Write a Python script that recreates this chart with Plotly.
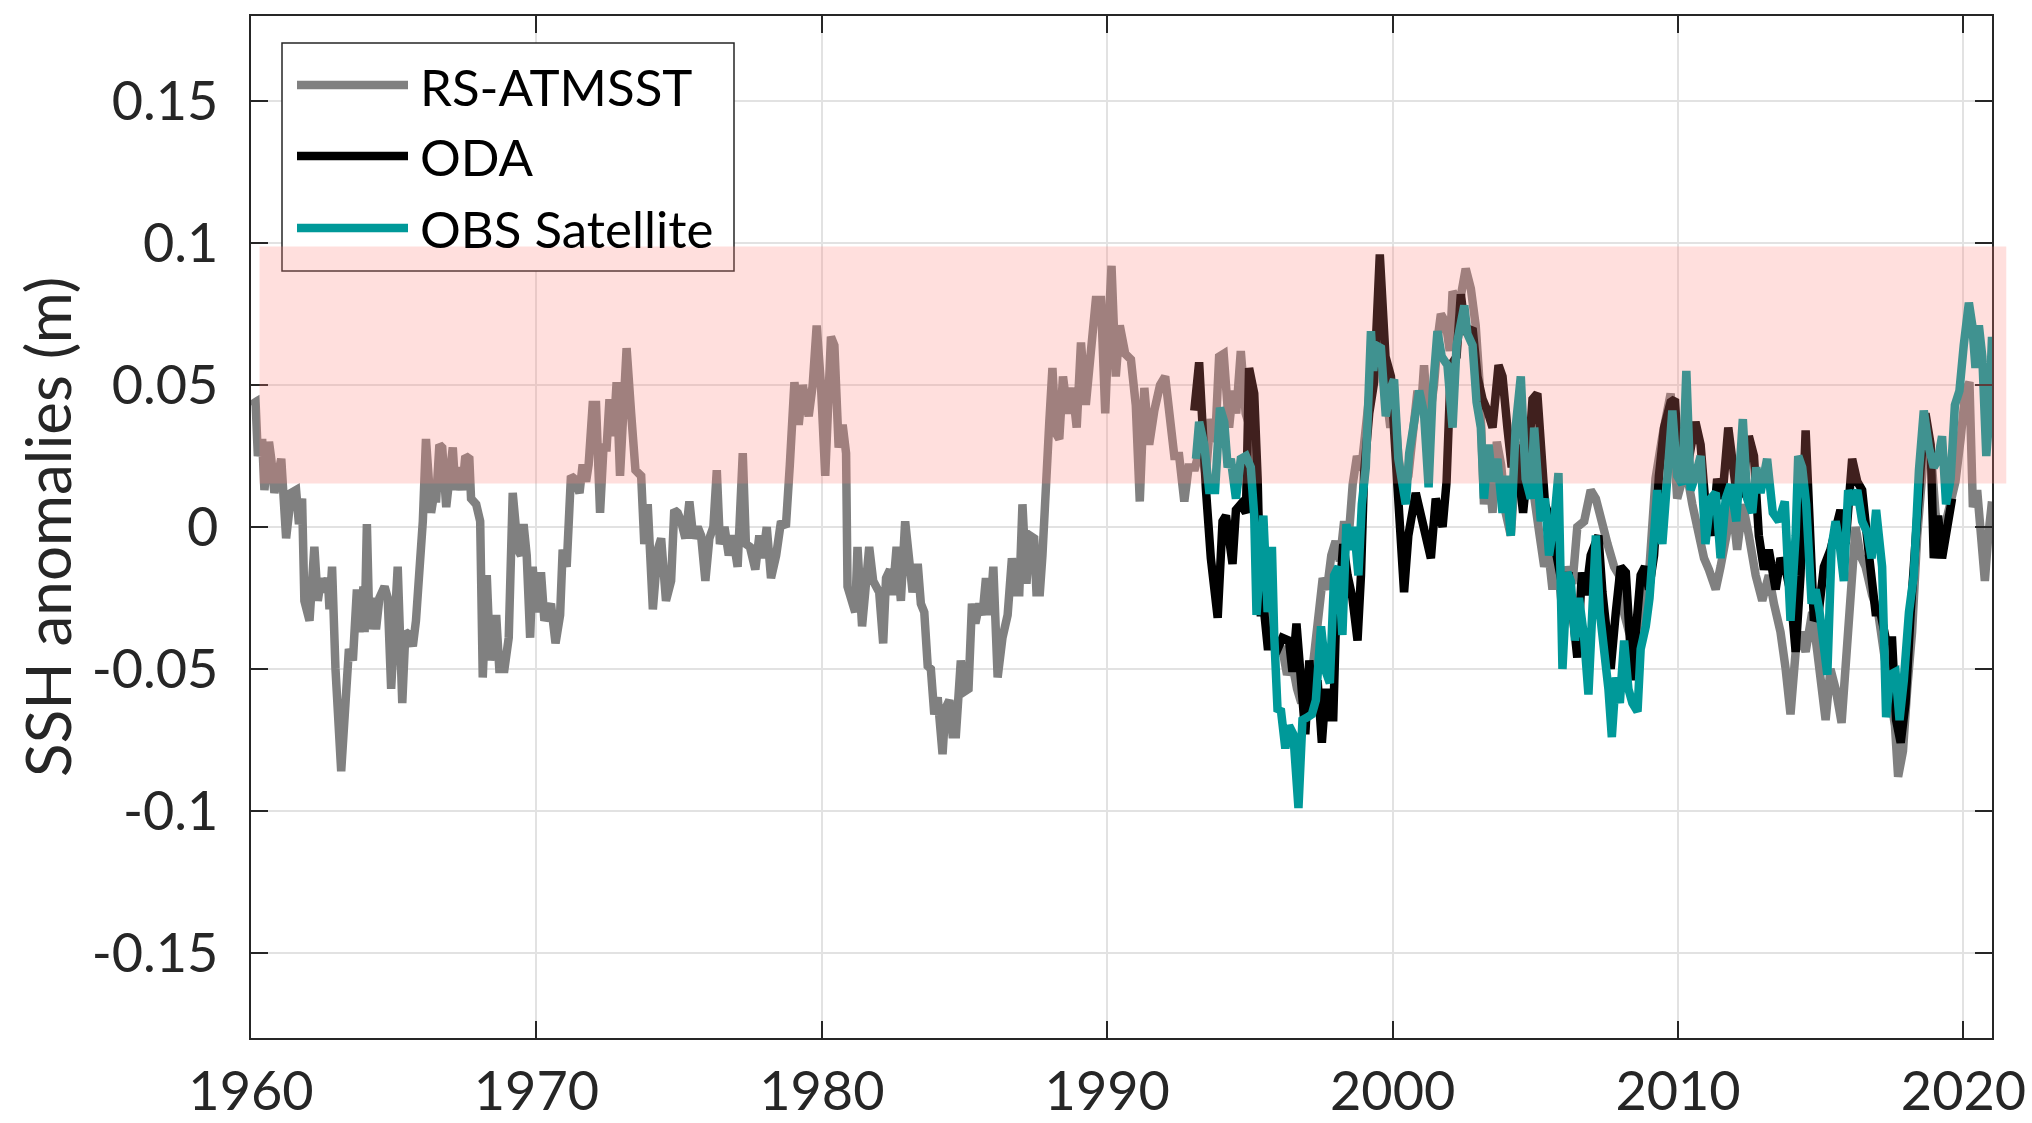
import plotly.graph_objects as go

# ---------------- data ----------------
# RS-ATMSST reconstruction (year, SSH anomaly in m)
rs_year = [
    1960.00, 1960.16, 1960.24, 1960.39, 1960.47, 1960.63, 1960.71, 1960.82, 1961.06, 1961.23,
    1961.41, 1961.58, 1961.68, 1961.79, 1961.87, 1962.05, 1962.22, 1962.34, 1962.46, 1962.57,
    1962.69, 1962.75, 1962.84, 1962.96, 1963.16, 1963.33, 1963.43, 1963.57, 1963.71, 1963.80,
    1963.94, 1963.98, 1964.06, 1964.15, 1964.29, 1964.38, 1964.50, 1964.68, 1964.79, 1964.91,
    1965.03, 1965.14, 1965.30, 1965.41, 1965.55, 1965.67, 1965.78, 1965.92, 1966.02, 1966.13,
    1966.19, 1966.31, 1966.39, 1966.49, 1966.60, 1966.70, 1966.84, 1966.95, 1967.07, 1967.16,
    1967.28, 1967.40, 1967.51, 1967.65, 1967.71, 1967.89, 1968.03, 1968.12, 1968.26, 1968.38,
    1968.59, 1968.70, 1968.88, 1969.03, 1969.17, 1969.35, 1969.46, 1969.55, 1969.66, 1969.78,
    1969.87, 1969.99, 1970.16, 1970.28, 1970.51, 1970.67, 1970.83, 1970.92, 1971.06, 1971.21,
    1971.33, 1971.51, 1971.62, 1971.74, 1971.83, 1971.97, 1972.09, 1972.23, 1972.35, 1972.46,
    1972.56, 1972.70, 1972.81, 1972.93, 1973.05, 1973.16, 1973.32, 1973.47, 1973.67, 1973.78,
    1973.90, 1974.08, 1974.25, 1974.37, 1974.54, 1974.72, 1974.83, 1974.95, 1975.07, 1975.22,
    1975.36, 1975.50, 1975.65, 1975.77, 1975.92, 1976.06, 1976.20, 1976.32, 1976.43, 1976.59,
    1976.74, 1976.88, 1977.05, 1977.23, 1977.34, 1977.48, 1977.67, 1977.81, 1977.93, 1978.07,
    1978.22, 1978.40, 1978.57, 1978.74, 1978.88, 1979.04, 1979.19, 1979.33, 1979.54, 1979.68,
    1979.82, 1979.97, 1980.12, 1980.32, 1980.44, 1980.59, 1980.73, 1980.85, 1980.90, 1981.08,
    1981.17, 1981.25, 1981.41, 1981.52, 1981.66, 1981.80, 1982.01, 1982.15, 1982.25, 1982.39,
    1982.48, 1982.62, 1982.77, 1982.92, 1983.06, 1983.18, 1983.36, 1983.47, 1983.59, 1983.71,
    1983.82, 1983.94, 1984.06, 1984.23, 1984.33, 1984.47, 1984.58, 1984.70, 1984.87, 1984.99,
    1985.14, 1985.26, 1985.38, 1985.52, 1985.63, 1985.75, 1985.89, 1986.01, 1986.16, 1986.33,
    1986.51, 1986.66, 1986.78, 1986.92, 1987.03, 1987.17, 1987.29, 1987.44, 1987.52, 1987.64,
    1987.73, 1987.85, 1987.97, 1988.08, 1988.20, 1988.32, 1988.45, 1988.61, 1988.78, 1988.93,
    1989.08, 1989.25, 1989.43, 1989.60, 1989.78, 1989.93, 1990.05, 1990.15, 1990.30, 1990.44,
    1990.63, 1990.83, 1991.00, 1991.14, 1991.30, 1991.47, 1991.65, 1991.85, 1992.03, 1992.20,
    1992.35, 1992.52, 1992.70, 1992.85, 1993.08, 1993.28, 1993.45, 1993.62, 1993.78, 1993.92,
    1994.08, 1994.27, 1994.40, 1994.52, 1994.68, 1994.85, 1995.00, 1995.15, 1995.30, 1995.45,
    1995.60, 1995.78, 1995.95, 1996.12, 1996.30, 1996.48, 1996.65, 1996.80, 1996.95, 1997.10,
    1997.25, 1997.40, 1997.55, 1997.70, 1997.85, 1998.00, 1998.15, 1998.30, 1998.45, 1998.60,
    1998.75, 1998.90, 1999.05, 1999.20, 1999.35, 1999.50, 1999.65, 1999.80, 1999.92, 2000.05,
    2000.20, 2000.35, 2000.55, 2000.75, 2000.87, 2001.00, 2001.10, 2001.25, 2001.45, 2001.60,
    2001.69, 2001.86, 2002.00, 2002.10, 2002.33, 2002.56, 2002.74, 2002.91, 2003.05, 2003.20,
    2003.35, 2003.50, 2003.65, 2003.80, 2003.96, 2004.14, 2004.30, 2004.45, 2004.60, 2004.80,
    2005.00, 2005.15, 2005.31, 2005.45, 2005.60, 2005.75, 2005.95, 2006.10, 2006.30, 2006.47,
    2006.71, 2006.94, 2007.12, 2007.35, 2007.53, 2007.76, 2007.93, 2008.10, 2008.28, 2008.52,
    2008.75, 2008.98, 2009.21, 2009.45, 2009.62, 2009.74, 2009.97, 2010.27, 2010.50, 2010.73,
    2010.91, 2011.08, 2011.32, 2011.49, 2011.72, 2011.90, 2012.07, 2012.27, 2012.48, 2012.72,
    2012.95, 2013.18, 2013.36, 2013.59, 2013.77, 2013.94, 2014.12, 2014.29, 2014.47, 2014.70,
    2014.88, 2015.05, 2015.17, 2015.34, 2015.52, 2015.73, 2015.89, 2016.04, 2016.22, 2016.39,
    2016.57, 2016.80, 2017.01, 2017.21, 2017.39, 2017.60, 2017.71, 2017.88, 2018.03, 2018.20,
    2018.38, 2018.53, 2018.69, 2018.88, 2019.02, 2019.20, 2019.37, 2019.55, 2019.72, 2019.90,
    2020.07, 2020.21, 2020.33, 2020.48, 2020.63, 2020.75, 2020.87, 2021.00,
]
rs_ssh = [
    0.043, 0.044, 0.025, 0.031, 0.013, 0.030, 0.024, 0.012, 0.024, -0.004,
    0.012, 0.013, 0.001, 0.010, -0.026, -0.033, -0.007, -0.026, -0.018, -0.023,
    -0.018, -0.029, -0.014, -0.050, -0.086, -0.062, -0.043, -0.047, -0.022, -0.037,
    -0.021, -0.037, 0.001, -0.036, -0.025, -0.036, -0.025, -0.021, -0.025, -0.057,
    -0.037, -0.014, -0.062, -0.037, -0.038, -0.042, -0.033, -0.017, 0.002, 0.031,
    0.024, 0.005, 0.010, 0.010, 0.029, 0.028, 0.007, 0.016, 0.028, 0.013,
    0.021, 0.013, 0.025, 0.024, 0.010, 0.008, 0.002, -0.053, -0.017, -0.047,
    -0.031, -0.050, -0.050, -0.039, 0.012, -0.008, -0.010, 0.001, -0.010, -0.039,
    -0.014, -0.030, -0.016, -0.033, -0.027, -0.041, -0.031, -0.008, -0.014, 0.018,
    0.017, 0.012, 0.022, 0.016, 0.022, 0.043, 0.043, 0.005, 0.028, 0.028,
    0.045, 0.032, 0.051, 0.018, 0.048, 0.063, 0.040, 0.020, 0.018, -0.006,
    0.008, -0.029, -0.008, -0.004, -0.026, -0.019, 0.006, 0.005, 0.002, -0.004,
    0.009, -0.004, 0.000, -0.003, -0.019, -0.004, 0.000, 0.020, -0.006, 0.000,
    -0.010, -0.003, -0.014, 0.026, -0.006, -0.007, -0.015, -0.003, -0.011, 0.000,
    -0.018, -0.010, 0.002, 0.000, 0.022, 0.051, 0.036, 0.050, 0.039, 0.050,
    0.071, 0.050, 0.018, 0.067, 0.064, 0.028, 0.036, 0.026, -0.021, -0.029,
    -0.030, -0.007, -0.035, -0.023, -0.007, -0.019, -0.023, -0.041, -0.018, -0.015,
    -0.024, -0.007, -0.026, 0.002, -0.013, -0.023, -0.013, -0.027, -0.030, -0.049,
    -0.050, -0.066, -0.060, -0.080, -0.064, -0.061, -0.073, -0.073, -0.047, -0.058,
    -0.057, -0.027, -0.034, -0.027, -0.031, -0.018, -0.031, -0.014, -0.053, -0.039,
    -0.031, -0.011, -0.023, -0.023, 0.008, -0.020, -0.003, -0.004, -0.023, -0.023,
    -0.010, 0.021, 0.037, 0.056, 0.033, 0.031, 0.053, 0.040, 0.049, 0.035,
    0.065, 0.043, 0.061, 0.080, 0.080, 0.040, 0.071, 0.092, 0.053, 0.071,
    0.061, 0.059, 0.043, 0.009, 0.049, 0.029, 0.041, 0.050, 0.053, 0.035,
    0.025, 0.025, 0.009, 0.021, 0.021, 0.029, 0.018, 0.038, 0.030, 0.060,
    0.061, 0.035, 0.048, 0.040, 0.062, 0.040, 0.035, 0.018, 0.005, -0.012,
    -0.030, -0.040, -0.045, -0.042, -0.052, -0.048, -0.057, -0.062, -0.050, -0.058,
    -0.045, -0.028, -0.018, -0.022, -0.010, -0.005, -0.012, 0.002, -0.005, 0.015,
    0.025, 0.020, 0.035, 0.048, 0.062, 0.070, 0.060, 0.045, 0.035, 0.045,
    0.025, 0.013, 0.018, 0.040, 0.048, 0.042, 0.057, 0.035, 0.050, 0.068,
    0.075, 0.072, 0.062, 0.083, 0.078, 0.091, 0.084, 0.071, 0.050, 0.008,
    0.022, 0.005, 0.030, 0.022, 0.005, -0.003, 0.020, 0.030, 0.010, 0.022,
    0.005, -0.003, -0.014, -0.008, -0.022, -0.010, -0.030, -0.014, -0.020, 0.000,
    0.002, 0.013, 0.010, 0.000, -0.006, -0.014, -0.017, -0.030, -0.037, -0.043,
    -0.037, -0.017, 0.017, 0.032, 0.040, 0.047, 0.010, 0.021, 0.008, -0.003,
    -0.011, -0.015, -0.022, -0.014, -0.003, 0.008, -0.008, 0.008, -0.003, -0.017,
    -0.026, -0.017, -0.027, -0.037, -0.050, -0.066, -0.044, -0.037, -0.044, -0.030,
    -0.044, -0.057, -0.068, -0.050, -0.057, -0.069, -0.044, -0.023, 0.000, -0.010,
    -0.014, -0.024, -0.030, -0.044, -0.057, -0.070, -0.088, -0.079, -0.057, -0.037,
    -0.003, 0.018, 0.035, 0.024, 0.005, -0.006, 0.002, 0.008, 0.016, 0.031,
    0.048, 0.051, 0.007, 0.013, -0.003, -0.019, -0.003, 0.009,
]

# ODA ocean data assimilation
oda_year = [
    1993.05, 1993.22, 1993.46, 1993.63, 1993.87, 1994.04, 1994.16, 1994.39, 1994.51, 1994.68,
    1994.86, 1994.97, 1995.15, 1995.27, 1995.38, 1995.50, 1995.62, 1995.79, 1995.97, 1996.14,
    1996.37, 1996.49, 1996.63, 1996.78, 1996.94, 1997.08, 1997.22, 1997.37, 1997.52, 1997.66,
    1997.78, 1997.92, 1998.01, 1998.13, 1998.27, 1998.42, 1998.59, 1998.77, 1998.89, 1999.00,
    1999.18, 1999.35, 1999.55, 1999.75, 1999.94, 2000.11, 2000.29, 2000.40, 2000.55, 2000.81,
    2001.04, 2001.34, 2001.51, 2001.75, 2001.89, 2002.04, 2002.24, 2002.39, 2002.56, 2002.80,
    2002.97, 2003.15, 2003.32, 2003.50, 2003.71, 2003.85, 2004.02, 2004.17, 2004.31, 2004.45,
    2004.57, 2004.76, 2004.90, 2005.07, 2005.19, 2005.34, 2005.48, 2005.60, 2005.77, 2006.01,
    2006.16, 2006.32, 2006.47, 2006.63, 2006.77, 2006.94, 2007.21, 2007.35, 2007.49, 2007.64,
    2007.82, 2007.99, 2008.17, 2008.28, 2008.40, 2008.52, 2008.69, 2008.84, 2008.98, 2009.16,
    2009.33, 2009.51, 2009.74, 2009.89, 2010.03, 2010.21, 2010.38, 2010.61, 2010.79, 2010.96,
    2011.20, 2011.37, 2011.55, 2011.76, 2011.92, 2012.07, 2012.25, 2012.48, 2012.66, 2012.83,
    2013.01, 2013.18, 2013.42, 2013.59, 2013.77, 2013.94, 2014.12, 2014.29, 2014.47, 2014.61,
    2014.76, 2014.93, 2015.11, 2015.34, 2015.52, 2015.69, 2015.87, 2016.10, 2016.28, 2016.45,
    2016.69, 2016.92, 2017.09, 2017.29, 2017.50, 2017.64, 2017.80, 2017.97, 2018.15, 2018.32,
    2018.50, 2018.67, 2018.85, 2018.96, 2019.11, 2019.25, 2019.43, 2019.60,
]
oda_ssh = [
    0.041, 0.058, 0.013, -0.011, -0.032, 0.002, 0.004, -0.013, 0.006, 0.008,
    0.005, 0.056, 0.047, 0.017, -0.030, -0.030, -0.042, -0.042, -0.043, -0.039,
    -0.040, -0.051, -0.034, -0.050, -0.073, -0.047, -0.066, -0.054, -0.076, -0.057,
    -0.067, -0.067, -0.035, -0.025, -0.006, -0.017, -0.025, -0.040, -0.017, 0.019,
    0.040, 0.051, 0.096, 0.060, 0.053, 0.024, -0.003, -0.023, -0.003, 0.012,
    0.002, -0.011, 0.010, 0.000, 0.016, 0.057, 0.060, 0.082, 0.068, 0.070,
    0.053, 0.045, 0.041, 0.035, 0.057, 0.053, 0.035, 0.021, 0.029, 0.013,
    0.005, 0.024, 0.045, 0.047, 0.024, 0.008, 0.004, -0.003, -0.011, -0.024,
    -0.016, -0.030, -0.046, -0.016, -0.024, -0.010, -0.003, -0.023, -0.037, -0.050,
    -0.030, -0.014, -0.016, -0.038, -0.054, -0.037, -0.017, -0.014, -0.022, -0.010,
    0.018, 0.035, 0.044, 0.045, 0.021, 0.035, 0.024, 0.037, 0.029, 0.008,
    -0.003, 0.017, 0.010, 0.035, 0.024, 0.010, 0.013, 0.032, 0.025, -0.003,
    -0.015, -0.008, -0.022, -0.011, -0.015, -0.023, -0.044, -0.017, 0.034, 0.006,
    -0.033, -0.030, -0.014, -0.008, -0.002, 0.006, -0.006, 0.024, 0.016, 0.013,
    -0.010, -0.030, -0.030, -0.040, -0.040, -0.068, -0.076, -0.062, -0.030, -0.003,
    0.021, 0.040, 0.029, -0.011, 0.004, -0.011, 0.000, 0.010,
]

# Satellite altimetry observations
obs_year = [
    1993.11, 1993.22, 1993.40, 1993.57, 1993.78, 1993.95, 1994.10, 1994.22, 1994.33, 1994.51,
    1994.68, 1994.86, 1995.03, 1995.15, 1995.23, 1995.35, 1995.47, 1995.62, 1995.77, 1995.85,
    1995.97, 1996.08, 1996.24, 1996.37, 1996.52, 1996.70, 1996.84, 1997.02, 1997.17, 1997.31,
    1997.49, 1997.66, 1997.80, 1997.95, 1998.10, 1998.24, 1998.38, 1998.53, 1998.65, 1998.80,
    1998.92, 1999.06, 1999.24, 1999.32, 1999.41, 1999.59, 1999.76, 1999.90, 2000.05, 2000.20,
    2000.34, 2000.46, 2000.58, 2000.75, 2000.93, 2001.10, 2001.26, 2001.40, 2001.57, 2001.72,
    2001.92, 2002.10, 2002.24, 2002.51, 2002.62, 2002.80, 2002.94, 2003.09, 2003.20, 2003.36,
    2003.50, 2003.67, 2003.85, 2003.96, 2004.14, 2004.31, 2004.49, 2004.66, 2004.84, 2004.96,
    2005.07, 2005.19, 2005.34, 2005.48, 2005.66, 2005.81, 2005.95, 2006.12, 2006.24, 2006.39,
    2006.53, 2006.71, 2006.86, 2007.00, 2007.12, 2007.26, 2007.41, 2007.56, 2007.68, 2007.82,
    2007.96, 2008.11, 2008.26, 2008.40, 2008.58, 2008.69, 2008.87, 2009.00, 2009.16, 2009.27,
    2009.45, 2009.62, 2009.80, 2009.97, 2010.15, 2010.29, 2010.44, 2010.61, 2010.79, 2010.96,
    2011.14, 2011.32, 2011.49, 2011.67, 2011.84, 2012.04, 2012.27, 2012.42, 2012.60, 2012.74,
    2012.89, 2013.12, 2013.32, 2013.53, 2013.74, 2013.94, 2014.12, 2014.21, 2014.35, 2014.49,
    2014.68, 2014.82, 2014.96, 2015.23, 2015.38, 2015.52, 2015.66, 2015.81, 2015.96, 2016.10,
    2016.28, 2016.45, 2016.63, 2016.78, 2016.94, 2017.15, 2017.29, 2017.44, 2017.62, 2017.76,
    2017.91, 2018.09, 2018.26, 2018.44, 2018.61, 2018.79, 2018.96, 2019.11, 2019.25, 2019.39,
    2019.55, 2019.70, 2019.86, 2020.01, 2020.19, 2020.31, 2020.42, 2020.54, 2020.66, 2020.80,
    2020.89, 2021.00,
]
obs_ssh = [
    0.024, 0.037, 0.029, 0.013, 0.013, 0.042, 0.037, 0.021, 0.024, 0.010,
    0.024, 0.025, 0.021, 0.004, -0.031, -0.017, 0.004, -0.030, -0.007, -0.038,
    -0.065, -0.064, -0.078, -0.070, -0.073, -0.099, -0.068, -0.067, -0.066, -0.061,
    -0.035, -0.051, -0.055, -0.017, -0.014, -0.038, 0.001, -0.008, 0.000, -0.017,
    0.008, 0.021, 0.069, 0.055, 0.064, 0.063, 0.039, 0.048, 0.052, 0.024,
    0.012, 0.008, 0.026, 0.035, 0.048, 0.040, 0.014, 0.047, 0.069, 0.060,
    0.057, 0.035, 0.064, 0.078, 0.068, 0.064, 0.044, 0.035, 0.010, 0.029,
    0.016, 0.024, 0.005, 0.018, -0.003, 0.035, 0.053, 0.017, 0.010, 0.035,
    0.017, 0.002, 0.010, -0.010, 0.002, 0.019, -0.050, -0.016, -0.019, -0.040,
    -0.025, -0.039, -0.059, -0.026, -0.003, -0.030, -0.043, -0.057, -0.074, -0.053,
    -0.062, -0.040, -0.057, -0.062, -0.065, -0.043, -0.035, -0.025, -0.003, 0.013,
    -0.006, 0.020, 0.041, 0.018, 0.015, 0.055, 0.013, 0.018, 0.025, -0.006,
    0.010, 0.012, -0.011, 0.010, 0.015, 0.002, 0.038, 0.010, 0.005, 0.021,
    0.012, 0.024, 0.005, 0.002, 0.009, -0.033, -0.003, 0.025, 0.021, 0.008,
    -0.027, -0.022, -0.030, -0.052, -0.007, 0.002, -0.006, -0.019, 0.013, 0.008,
    0.013, 0.002, -0.002, -0.011, 0.006, -0.014, -0.067, -0.052, -0.051, -0.068,
    -0.054, -0.030, -0.017, 0.020, 0.041, 0.028, 0.021, 0.024, 0.032, 0.008,
    0.017, 0.043, 0.048, 0.064, 0.079, 0.071, 0.056, 0.071, 0.060, 0.025,
    0.037, 0.067,
]

series_names = ["RS-ATMSST", "ODA", "OBS Satellite"]
series_colors = ["#808080", "#000000", "#009999"]

x_ticks = [1960, 1970, 1980, 1990, 2000, 2010, 2020]
y_ticks = [-0.15, -0.1, -0.05, 0, 0.05, 0.1, 0.15]
y_tick_text = ["-0.15", "-0.1", "-0.05", "0", "0.05", "0.1", "0.15"]
y_label = "SSH anomalies (m)"

# highlighted band (time span and SSH range)
band_years = (1960.3, 2021.5)
band_ssh = (0.0153, 0.0988)

# ---------------- layout geometry ----------------
W, H = 2032, 1123
M_L, M_R, M_T, M_B = 251, 40, 16, 85
X_RANGE = [1960, 2021]
Y_RANGE = [-0.18, 0.18]
PLOT_W = W - M_L - M_R
PLOT_H = H - M_T - M_B

AXIS_COLOR = "#262626"
FONT = "Lato"
LINE_W = 8.5


def xdata_to_paper(v):
    return (v - X_RANGE[0]) / (X_RANGE[1] - X_RANGE[0])


def ydata_to_paper(v):
    return (v - Y_RANGE[0]) / (Y_RANGE[1] - Y_RANGE[0])


def xpix_to_paper(px):
    return (px - M_L) / PLOT_W


def ypix_to_paper(py):
    return (M_T + PLOT_H - py) / PLOT_H


fig = go.Figure()

for name, color, xs, ys in zip(series_names, series_colors,
                               [rs_year, oda_year, obs_year],
                               [rs_ssh, oda_ssh, obs_ssh]):
    fig.add_trace(go.Scatter(
        x=xs, y=ys, mode="lines", name=name,
        line=dict(color=color, width=LINE_W),
        showlegend=False,
    ))

shapes = []
annotations = []

# legend box (drawn beneath the translucent band)
box_l, box_r, box_t, box_b = 282, 734, 43, 271
shapes.append(dict(
    type="rect", xref="paper", yref="paper", layer="above",
    x0=xpix_to_paper(box_l), x1=xpix_to_paper(box_r),
    y0=ypix_to_paper(box_b), y1=ypix_to_paper(box_t),
    fillcolor="white", line=dict(color=AXIS_COLOR, width=1.5),
))
key_x0, key_x1, text_x = 297, 408, 418
row_y = [85, 156, 228]
for name, color, ry in zip(series_names, series_colors, row_y):
    shapes.append(dict(
        type="line", xref="paper", yref="paper", layer="above",
        x0=xpix_to_paper(key_x0), x1=xpix_to_paper(key_x1),
        y0=ypix_to_paper(ry), y1=ypix_to_paper(ry),
        line=dict(color=color, width=LINE_W),
    ))
    annotations.append(dict(
        xref="paper", yref="paper", x=xpix_to_paper(text_x), y=ypix_to_paper(ry + 1),
        xanchor="left", yanchor="middle", text=name, showarrow=False,
        font=dict(family=FONT, size=51, color="#000000"),
    ))

# y-axis label, placed left of the tick labels
annotations.append(dict(
    xref="paper", yref="paper", x=xpix_to_paper(47), y=0.5,
    xanchor="center", yanchor="middle", textangle=-90,
    text=y_label, showarrow=False,
    font=dict(family=FONT, size=62, color=AXIS_COLOR),
))

# translucent band on top of the lines
shapes.append(dict(
    type="rect", xref="paper", yref="paper", layer="above",
    x0=xdata_to_paper(band_years[0]), x1=xdata_to_paper(band_years[1]),
    y0=ydata_to_paper(band_ssh[0]), y1=ydata_to_paper(band_ssh[1]),
    fillcolor="rgba(255,128,120,0.25)", line=dict(width=0),
))

axis_common = dict(
    showline=True, linecolor=AXIS_COLOR, linewidth=1.5, mirror="ticks",
    ticks="inside", ticklen=17, tickwidth=1.5, tickcolor=AXIS_COLOR,
    showgrid=True, gridcolor="#E2E2E2", gridwidth=1.5, zeroline=False,
    automargin=False,
    tickfont=dict(family=FONT, size=54, color=AXIS_COLOR),
)

fig.update_layout(
    width=W, height=H,
    margin=dict(l=M_L, r=M_R, t=M_T, b=M_B, pad=0),
    paper_bgcolor="white", plot_bgcolor="white",
    shapes=shapes, annotations=annotations,
    xaxis=dict(range=X_RANGE, tickvals=x_ticks, ticklabelstandoff=5, **axis_common),
    yaxis=dict(range=Y_RANGE, tickvals=y_ticks, ticktext=y_tick_text,
               ticklabelstandoff=20, **axis_common),
)

fig.write_html("out.html")
